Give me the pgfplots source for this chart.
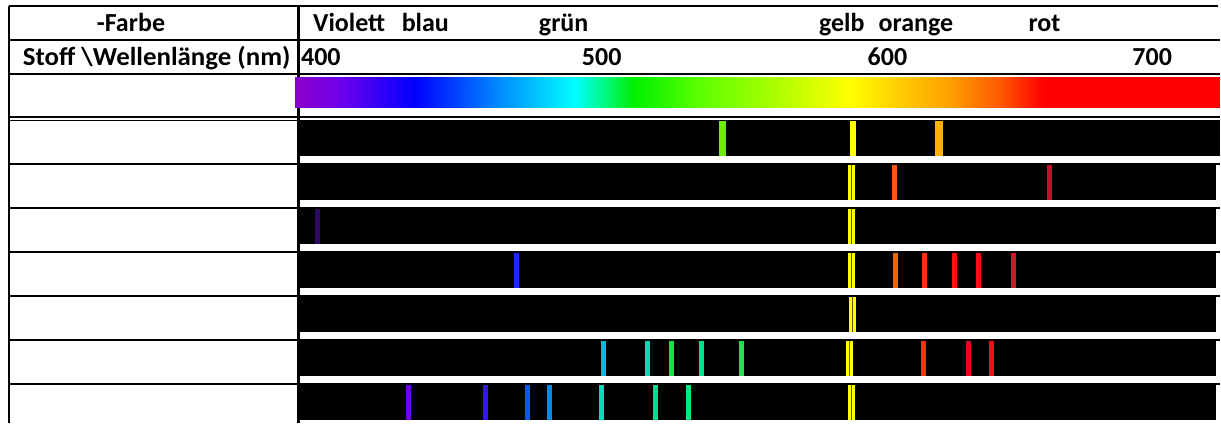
\documentclass[border=0pt]{standalone}
\usepackage{fontspec}
\setmainfont{Carlito}
\usepackage{pgfplots}
\usepgfplotslibrary{patchplots}
\pgfplotsset{compat=1.18}
\pgfplotsset{colormap={spec}{rgb255(0pt)=(140,0,200); rgb255(45pt)=(110,0,235); rgb255(120pt)=(0,0,255); rgb255(205pt)=(0,140,255); rgb255(280pt)=(0,255,255); rgb255(340pt)=(0,240,0); rgb255(405pt)=(90,255,0); rgb255(475pt)=(165,255,0); rgb255(555pt)=(255,255,0); rgb255(605pt)=(255,205,0); rgb255(655pt)=(255,160,0); rgb255(705pt)=(255,90,0); rgb255(750pt)=(255,0,0); rgb255(925pt)=(255,0,0)}}
\definecolor{naY}{RGB}{255,255,0}
\definecolor{naD}{RGB}{110,100,0}
\newcommand\tf{\fontsize{13}{15}\selectfont\bfseries}
\begin{document}
\begin{tikzpicture}
\begin{axis}[name=ax, scale only axis, width=610.5pt, height=211.5pt,
  xmin=298.98, xmax=714.29, ymin=0, ymax=423, hide axis, clip=false]
% black bands
\addplot[fill=black, draw=none] coordinates {(400,267) (714.29,267) (714.29,303) (400,303)};
\addplot[fill=black, draw=none] coordinates {(400,223) (712.76,223) (712.76,259) (400,259)};
\addplot[fill=black, draw=none] coordinates {(400,179) (712.76,179) (712.76,215) (400,215)};
\addplot[fill=black, draw=none] coordinates {(400,135) (712.76,135) (712.76,171) (400,171)};
\addplot[fill=black, draw=none] coordinates {(400,91) (712.76,91) (712.76,127) (400,127)};
\addplot[fill=black, draw=none] coordinates {(400,47) (712.76,47) (712.76,83) (400,83)};
\addplot[fill=black, draw=none] coordinates {(400,3) (712.76,3) (712.76,39) (400,39)};
% row 1
\addplot[draw={rgb,255:red,110;green,235;blue,10}, line width=3.5pt] coordinates {(544.9,267) (544.9,303)};
\addplot[draw=naY, line width=3pt] coordinates {(589.35,267) (589.35,303)};
\addplot[draw={rgb,255:red,255;green,176;blue,0}, line width=4pt] coordinates {(618.7,267) (618.7,303)};
% row 2
\addplot[draw=naY, line width=3.5pt] coordinates {(588.95,223) (588.95,259)};
\addplot[draw=naD, line width=0.5pt] coordinates {(588.95,223) (588.95,259)};
\addplot[draw={rgb,255:red,255;green,90;blue,10}, line width=2.5pt] coordinates {(603.6,223) (603.6,259)};
\addplot[draw={rgb,255:red,200;green,15;blue,40}, line width=2.5pt] coordinates {(656.3,223) (656.3,259)};
% row 3
\addplot[draw={rgb,255:red,45;green,10;blue,95}, line width=2.8pt] coordinates {(407.1,179) (407.1,215)};
\addplot[draw=naY, line width=3.5pt] coordinates {(588.95,179) (588.95,215)};
\addplot[draw=naD, line width=0.5pt] coordinates {(588.95,179) (588.95,215)};
% row 4
\addplot[draw={rgb,255:red,30;green,40;blue,255}, line width=2.5pt] coordinates {(474.7,135) (474.7,171)};
\addplot[draw=naY, line width=3.5pt] coordinates {(588.95,135) (588.95,171)};
\addplot[draw=naD, line width=0.5pt] coordinates {(588.95,135) (588.95,171)};
\addplot[draw={rgb,255:red,235;green,100;blue,10}, line width=2.5pt] coordinates {(603.7,135) (603.7,171)};
\addplot[draw={rgb,255:red,255;green,50;blue,10}, line width=2.5pt] coordinates {(613.8,135) (613.8,171)};
\addplot[draw={rgb,255:red,255;green,15;blue,20}, line width=2.5pt] coordinates {(624.0,135) (624.0,171)};
\addplot[draw={rgb,255:red,255;green,10;blue,25}, line width=2.5pt] coordinates {(632.1,135) (632.1,171)};
\addplot[draw={rgb,255:red,215;green,20;blue,35}, line width=2.5pt] coordinates {(644.0,135) (644.0,171)};
% row 5
\addplot[draw=naY, line width=3.5pt] coordinates {(589.3,91) (589.3,127)};
\addplot[draw=naD, line width=0.5pt] coordinates {(589.3,91) (589.3,127)};
% row 6
\addplot[draw={rgb,255:red,0;green,190;blue,215}, line width=2.5pt] coordinates {(504.4,47) (504.4,83)};
\addplot[draw={rgb,255:red,0;green,220;blue,175}, line width=2.5pt] coordinates {(519.4,47) (519.4,83)};
\addplot[draw={rgb,255:red,20;green,230;blue,70}, line width=2.5pt] coordinates {(527.4,47) (527.4,83)};
\addplot[draw={rgb,255:red,0;green,225;blue,140}, line width=2.5pt] coordinates {(537.8,47) (537.8,83)};
\addplot[draw={rgb,255:red,20;green,230;blue,80}, line width=2.5pt] coordinates {(551.5,47) (551.5,83)};
\addplot[draw=naY, line width=3.5pt] coordinates {(588.3,47) (588.3,83)};
\addplot[draw=naD, line width=0.5pt] coordinates {(588.3,47) (588.3,83)};
\addplot[draw={rgb,255:red,255;green,50;blue,10}, line width=2.5pt] coordinates {(613.3,47) (613.3,83)};
\addplot[draw={rgb,255:red,225;green,10;blue,35}, line width=2.5pt] coordinates {(628.6,47) (628.6,83)};
\addplot[draw={rgb,255:red,255;green,10;blue,25}, line width=2.5pt] coordinates {(636.6,47) (636.6,83)};
% row 7
\addplot[draw={rgb,255:red,110;green,0;blue,240}, line width=2.5pt] coordinates {(437.9,3) (437.9,39)};
\addplot[draw={rgb,255:red,50;green,20;blue,245}, line width=2.5pt] coordinates {(464.3,3) (464.3,39)};
\addplot[draw={rgb,255:red,10;green,90;blue,235}, line width=2.5pt] coordinates {(478.6,3) (478.6,39)};
\addplot[draw={rgb,255:red,0;green,140;blue,230}, line width=2.5pt] coordinates {(486.1,3) (486.1,39)};
\addplot[draw={rgb,255:red,0;green,220;blue,185}, line width=2.5pt] coordinates {(503.7,3) (503.7,39)};
\addplot[draw={rgb,255:red,0;green,220;blue,150}, line width=2.5pt] coordinates {(522.1,3) (522.1,39)};
\addplot[draw={rgb,255:red,0;green,230;blue,130}, line width=2.5pt] coordinates {(533.2,3) (533.2,39)};
\addplot[draw=naY, line width=3.5pt] coordinates {(588.95,3) (588.95,39)};
\addplot[draw=naD, line width=0.5pt] coordinates {(588.95,3) (588.95,39)};
\end{axis}
\begin{scope}[shift={(ax.north west)}, x=0.5pt, y=-0.5pt]
\path (0,0) rectangle (1221,423);
% table lines
\draw[line width=1pt] (9,6) -- (1219,6);
\draw[line width=1pt] (9,40) -- (1221,40);
\draw[line width=1pt] (9,74) -- (1221,74);
\draw[line width=0.85pt] (9,117.3) -- (1221,117.3);
\draw[line width=0.85pt] (9,120.5) -- (1221,120.5);
\foreach \yy in {164.5,208.5,252.5,296.5,340.5,384.5}
  \draw[line width=1pt] (9,\yy) -- (1221,\yy);
\draw[line width=1pt] (9,6) -- (9,423);
\draw[line width=1.6pt] (298.6,6) -- (298.6,423);
% texts
\tf
\node[anchor=base west, inner sep=0pt] at (96.5,31.7) {-Farbe};
\node[anchor=base west, inner sep=0pt, xscale=1.035] at (22.5,65.2) {Stoff \textbackslash Wellenlänge (nm)};
\node[anchor=base west, inner sep=0pt] at (313,31.7) {Violett};
\node[anchor=base west, inner sep=0pt] at (401.7,31.7) {blau};
\node[anchor=base west, inner sep=0pt] at (539,31.7) {grün};
\node[anchor=base west, inner sep=0pt] at (819.3,31.7) {gelb};
\node[anchor=base west, inner sep=0pt] at (879,31.7) {orange};
\node[anchor=base west, inner sep=0pt] at (1029,31.7) {rot};
\node[anchor=base west, inner sep=0pt] at (301,65.7) {400};
\node[anchor=base west, inner sep=0pt] at (582,65.7) {500};
\node[anchor=base west, inner sep=0pt] at (868,65.7) {600};
\node[anchor=base west, inner sep=0pt] at (1133,65.7) {700};
\end{scope}
\begin{axis}[scale only axis, width=610.5pt, height=211.5pt, at={(ax.south west)}, anchor=south west,
  xmin=298.98, xmax=714.29, ymin=0, ymax=423, hide axis, clip=false]
% rainbow bar (drawn over the table's vertical line, as in the reference)
\addplot[patch, patch type=rectangle, shader=interp, colormap name=spec,
  point meta=x, point meta min=399.32, point meta max=713.95] coordinates {
(399.32,315) (414.63,315) (414.63,346) (399.32,346)
(414.63,315) (440.14,315) (440.14,346) (414.63,346)
(440.14,315) (469.05,315) (469.05,346) (440.14,346)
(469.05,315) (494.56,315) (494.56,346) (469.05,346)
(494.56,315) (514.97,315) (514.97,346) (494.56,346)
(514.97,315) (537.07,315) (537.07,346) (514.97,346)
(537.07,315) (560.88,315) (560.88,346) (537.07,346)
(560.88,315) (588.10,315) (588.10,346) (560.88,346)
(588.10,315) (605.10,315) (605.10,346) (588.10,346)
(605.10,315) (622.11,315) (622.11,346) (605.10,346)
(622.11,315) (639.12,315) (639.12,346) (622.11,346)
(639.12,315) (654.42,315) (654.42,346) (639.12,346)
(654.42,315) (713.95,315) (713.95,346) (654.42,346)
};
\end{axis}
\end{tikzpicture}
\end{document}
